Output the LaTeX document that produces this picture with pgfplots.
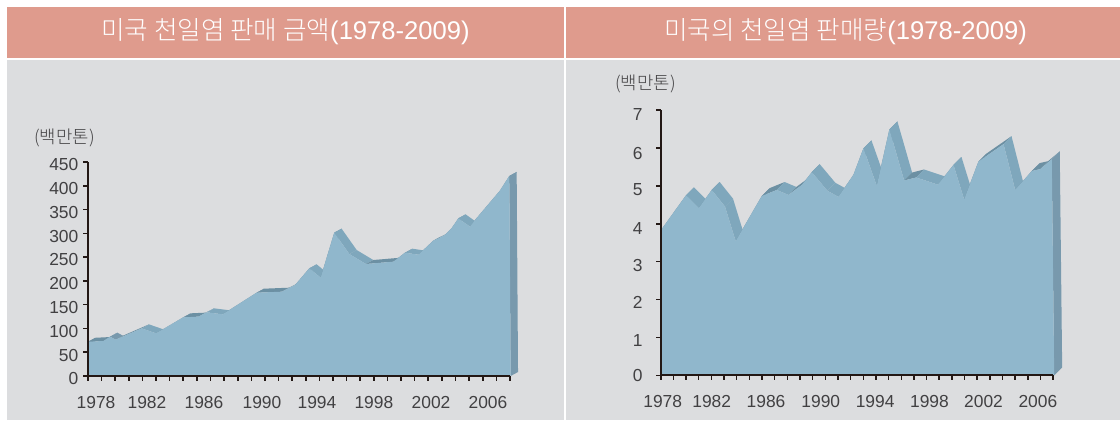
\documentclass[border=0pt]{standalone}
\usepackage{fontspec}
\setmainfont{Liberation Sans}
\newfontfamily\kr{Noto Sans CJK KR Light}
\usepackage{pgfplots}
\pgfplotsset{compat=1.18}
\definecolor{head}{HTML}{DF9B8D}
\definecolor{panel}{HTML}{DCDDDF}
\definecolor{frontc}{HTML}{90B7CC}
\definecolor{slopedown}{HTML}{7FA7BC}
\definecolor{slopeup}{HTML}{6C90A3}
\definecolor{wall}{HTML}{7899AD}
\definecolor{axisc}{HTML}{231815}
\definecolor{textc}{HTML}{414042}

% front face from year/value pairs, side faces pushed back by #2,#3
\newcommand\extruded[3]{%
  \gdef\front{}%
  \foreach \x/\y [remember=\x as \px (initially 0), remember=\y as \py (initially 0), count=\i] in {#1}{%
    \xdef\front{\front(\x,\y)}%
    \ifnum\i>1
      \pgfmathsetmacro\qx{\x+#2}%
      \pgfmathsetmacro\qy{\y+#3}%
      \pgfmathsetmacro\rx{\px+#2}%
      \pgfmathsetmacro\ry{\py+#3}%
      \pgfmathparse{abs(\x-\px)<0.5 ? "wall" : (\y>\py ? "slopeup" : "slopedown")}%
      \edef\col{\pgfmathresult}%
      \edef\temp{\noexpand\addplot[draw=none,fill=\col] coordinates {(\px,\py)(\x,\y)(\qx,\qy)(\rx,\ry)} -- cycle;}\temp
    \fi
  }%
  \edef\temp{\noexpand\addplot[draw=none,fill=frontc] coordinates {\front} -- cycle;}\temp
}

\pgfplotsset{saltaxis/.style={
  scale only axis,
  anchor=south west,
  clip=false,
  axis on top,
  axis x line=bottom,
  axis y line=left,
  axis line style={-,axisc,line width=0.9pt},
  xmin=1978, xmax=2009,
  xtick={1978,1979,...,2009},
  xticklabels={},
  tick align=outside,
  tick style={axisc,line width=0.8pt},
  major tick length=2.3pt,
  ticklabel style={font=\fontsize{8.7}{10}\selectfont,text=textc},
  /pgf/number format/assume math mode=true,
  extra x tick labels={1978,1982,1986,1990,1994,1998,2002,2006},
  extra x tick style={major tick length=0pt,tick style={draw=none},
    xticklabel style={yshift=-6.5pt}},
}}

\begin{document}
\begin{tikzpicture}[x=0.5pt,y=0.5pt]
\fill[white] (0,0) rectangle (1120,420);
\fill[panel] (7,0) rectangle (564,360);
\fill[panel] (566,0) rectangle (1120,360);
\fill[head] (7,362) rectangle (564,413);
\fill[head] (566,362) rectangle (1120,413);
\node[white,font=\fontsize{12.8}{14}\selectfont] at (285.5,388) {{\kr 미국 천일염 판매 금액}(1978-2009)};
\node[white,font=\fontsize{12.8}{14}\selectfont] at (845.5,388) {{\kr 미국의 천일염 판매량}(1978-2009)};
\node[text=textc,font=\fontsize{8.9}{10}\selectfont\kr] at (64.5,282) {(백만톤)};
\node[text=textc,font=\fontsize{8.9}{10}\selectfont\kr] at (645.5,336) {(백만톤)};

\begin{axis}[saltaxis,
  at={(44pt,22pt)},
  width=211pt, height=107pt,
  ymin=0, ymax=450,
  ytick={0,50,...,450},
  yticklabel style={xshift=1pt,yshift=-1.4pt},
  extra x ticks={1978.59,1982.33,1986.52,1990.78,1994.82,1999.0,2003.2,2007.38},
]
\extruded{1978/0,1978/72,1979.13/73.6,1979.62/82.7,1980.03/76.4,1981.94/100.2,1983.0/89.7,1985.0/123.4,1986.1/124.8,1986.72/133.9,1987.89/129.7,1990.39/175.2,1992.23/177.3,1993.21/191.3,1994.26/226.4,1995.09/206.8,1996.09/301.4,1997.2/256.5,1998.42/235.5,2000.43/240.4,2001.29/259.3,2002.27/255.1,2003.37/284.6,2004.22/296.5,2004.71/310.5,2005.2/331.5,2006.06/314,2006.43/328,2008.26/389.7,2008.95/420.6,2009.05/0}{0.54}{8.4}
\end{axis}

\begin{axis}[saltaxis,
  at={(330.35pt,22.35pt)},
  width=196.3pt, height=132.65pt,
  ymin=0, ymax=7,
  ytick={0,1,...,7},
  yticklabels={},
  extra y ticks={0,0.93,1.93,2.91,3.88,4.89,5.86,6.87},
  extra y tick labels={0,1,2,3,4,5,6,7},
  extra y tick style={major tick length=0pt,tick style={draw=none},
    yticklabel style={xshift=-5.5pt}},
  extra x ticks={1978.16,1982.03,1986.32,1990.64,1994.93,1999.22,2003.49,2007.78},
]
\extruded{1978/0,1978/3.82,1980/4.75,1981/4.41,1982.03/4.89,1983.08/4.45,1983.92/3.54,1985.98/4.73,1987.16/4.89,1988.08/4.76,1989.14/5.02,1989.93/5.36,1991.16/4.87,1992.03/4.71,1993.22/5.29,1994.01/5.99,1995.06/5,1996.06/6.49,1997.22/5.14,1998.17/5.22,1999.88/5.03,2001.12/5.55,2001.96/4.64,2003.09/5.64,2005.07/6.1,2005.99/4.89,2007.3/5.39,2007.96/5.44,2008.88/5.7,2009.07/0}{0.63}{0.21}
\end{axis}
\end{tikzpicture}
\end{document}
